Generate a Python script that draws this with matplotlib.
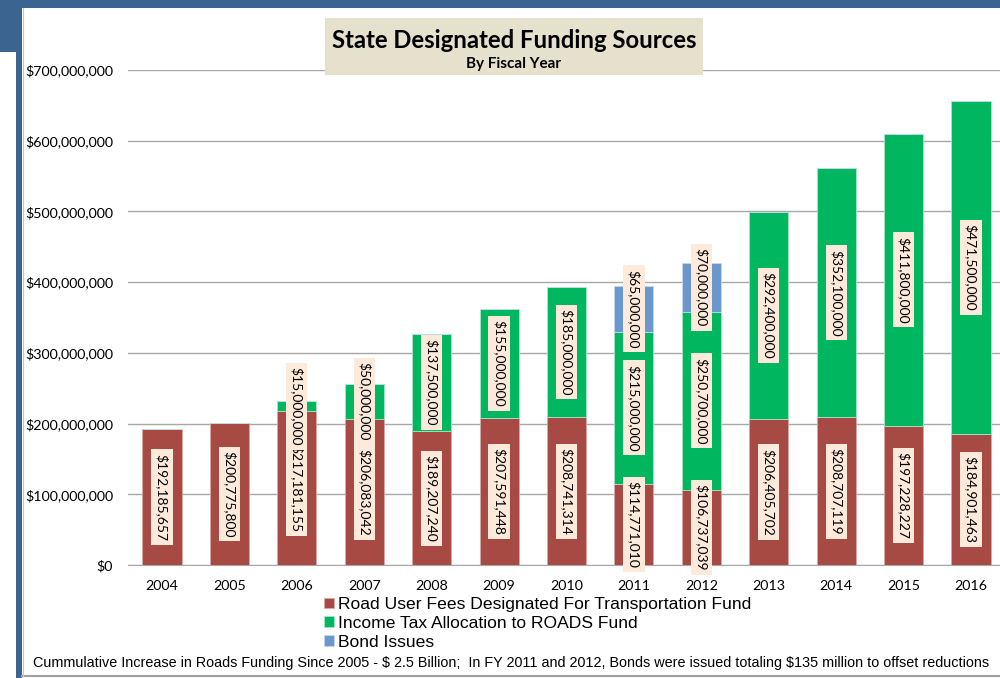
import matplotlib
matplotlib.use("Agg")
import matplotlib.pyplot as plt
from matplotlib.patches import Rectangle
import numpy as np

years = ["2004", "2005", "2006", "2007", "2008", "2009", "2010",
         "2011", "2012", "2013", "2014", "2015", "2016"]
road_fees = [192185657, 200775800, 217181155, 206083042, 189207240, 207591448,
             208741314, 114771010, 106737039, 206405702, 208707119, 197228227,
             184901463]
income_tax = [0, 0, 15000000, 50000000, 137500000, 155000000, 185000000,
              215000000, 250700000, 292400000, 352100000, 411800000, 471500000]
bonds = [0, 0, 0, 0, 0, 0, 0, 65000000, 70000000, 0, 0, 0, 0]
series_names = ["Road User Fees Designated For Transportation Fund",
                "Income Tax Allocation to ROADS Fund",
                "Bond Issues"]
yticks = [0, 100e6, 200e6, 300e6, 400e6, 500e6, 600e6, 700e6]

c_red = "#A84A44"
c_green = "#00B65E"
c_blue = "#6A98CC"
c_frame = "#3C6491"

W, H = 1000, 678
fig = plt.figure(figsize=(W / 100, H / 100), dpi=100)
fig.patch.set_facecolor("white")

def fx(px):
    return px / W

def fy(py):
    return 1 - py / H

# frame decorations
fig.patches.append(Rectangle((0, fy(8)), 1, fy(0) - fy(8), transform=fig.transFigure,
                             facecolor=c_frame, edgecolor="none", zorder=0))
fig.patches.append(Rectangle((0, fy(52)), fx(22), fy(8) - fy(52), transform=fig.transFigure,
                             facecolor=c_frame, edgecolor="none", zorder=0))
fig.patches.append(Rectangle((fx(16), 0), fx(6), fy(52), transform=fig.transFigure,
                             facecolor=c_frame, edgecolor="none", zorder=0))
fig.add_artist(plt.Line2D([fx(22), 1], [fy(676), fy(676)], transform=fig.transFigure,
                          color="#A0A0A0", lw=1.5))
fig.add_artist(plt.Line2D([fx(22.5), fx(22.5)], [fy(676), fy(8)], transform=fig.transFigure,
                          color="#C8C8C8", lw=0.8))

# axes: x category centers 162 .. 971 px, y 0 at 565 px, 700M at 70 px
step = (971 - 162) / 12
left_px = 162 - step / 2
right_px = 971 + step / 2
ax = fig.add_axes([fx(left_px), fy(565), (right_px - left_px) / W, (565 - 70) / H])
ax.set_facecolor("none")

x = np.arange(len(years))
bw = 0.58
rf = np.array(road_fees, dtype=float)
it = np.array(income_tax, dtype=float)
bd = np.array(bonds, dtype=float)

ax.bar(x, rf, bw, color=c_red, edgecolor="#D9A9A5", linewidth=0.6, zorder=2,
       label=series_names[0])
ax.bar(x, it, bw, bottom=rf, color=c_green, edgecolor="#A8E6C6", linewidth=0.6,
       zorder=2, label=series_names[1])
ax.bar(x, bd, bw, bottom=rf + it, color=c_blue, edgecolor="#C6D8EE", linewidth=0.6,
       zorder=2, label=series_names[2])

ax.set_xlim(-0.5, len(years) - 0.5)
ax.set_ylim(0, 700e6)
ax.set_yticks(yticks)
ax.set_yticklabels(["${:,.0f}".format(v) for v in yticks], fontfamily="Lato",
                   fontsize=10.3)
ax.set_xticks(x)
ax.set_xticklabels(years, fontfamily="Lato", fontsize=10.3)
ax.tick_params(axis="x", length=0, pad=11)
ax.tick_params(axis="y", length=0, pad=11)
ax.grid(axis="y", color="#A8A8A8", lw=1, zorder=0)
for s in ["top", "right", "left"]:
    ax.spines[s].set_visible(False)
ax.spines["bottom"].set_color("#A8A8A8")
ax.spines["bottom"].set_zorder(1)

box = dict(boxstyle="square,pad=0.3", facecolor="#FDEADA", edgecolor="none")

def label(xx, yy, val, z):
    ax.text(xx, yy, "${:,.0f}".format(val), rotation=-90, ha="center", va="center",
            fontfamily="Lato", fontsize=10, bbox=box, zorder=z, clip_on=False)

for i in range(len(years)):
    if rf[i] > 0:
        label(x[i], rf[i] / 2, rf[i], 4)
for i in range(len(years)):
    if it[i] > 0:
        label(x[i], rf[i] + it[i] / 2, it[i], 5)
for i in range(len(years)):
    if bd[i] > 0:
        label(x[i], rf[i] + it[i] + bd[i] / 2, bd[i], 6)

# title box
fig.patches.append(Rectangle((fx(325), fy(75)), fx(703) - fx(325), fy(18) - fy(75),
                             transform=fig.transFigure, facecolor="#E6E1CD",
                             edgecolor="none", zorder=3))
fig.text(fx(514), fy(41), "State Designated Funding Sources", ha="center", va="center",
         fontfamily="Lato", fontweight="bold", fontsize=17.2, zorder=4)
fig.text(fx(514), fy(64), "By Fiscal Year", ha="center", va="center",
         fontfamily="Lato", fontweight="bold", fontsize=11, zorder=4)

# legend
handles, labels_ = ax.get_legend_handles_labels()
leg = fig.legend(handles, labels_, loc="upper left", bbox_to_anchor=(fx(324), fy(597)),
                 frameon=False, prop={"family": "Liberation Sans", "size": 12.6},
                 handlelength=0.55, handleheight=0.55, handletextpad=0.25,
                 labelspacing=0.22, borderpad=0, borderaxespad=0)

fig.text(fx(33), fy(663),
         "Cummulative Increase in Roads Funding Since 2005 - \\$ 2.5 Billion;  In FY 2011 and 2012, Bonds were issued totaling \\$135 million to offset reductions",
         ha="left", va="center", fontfamily="Liberation Sans", fontsize=10.4)

fig.savefig("out.png", dpi=100)
